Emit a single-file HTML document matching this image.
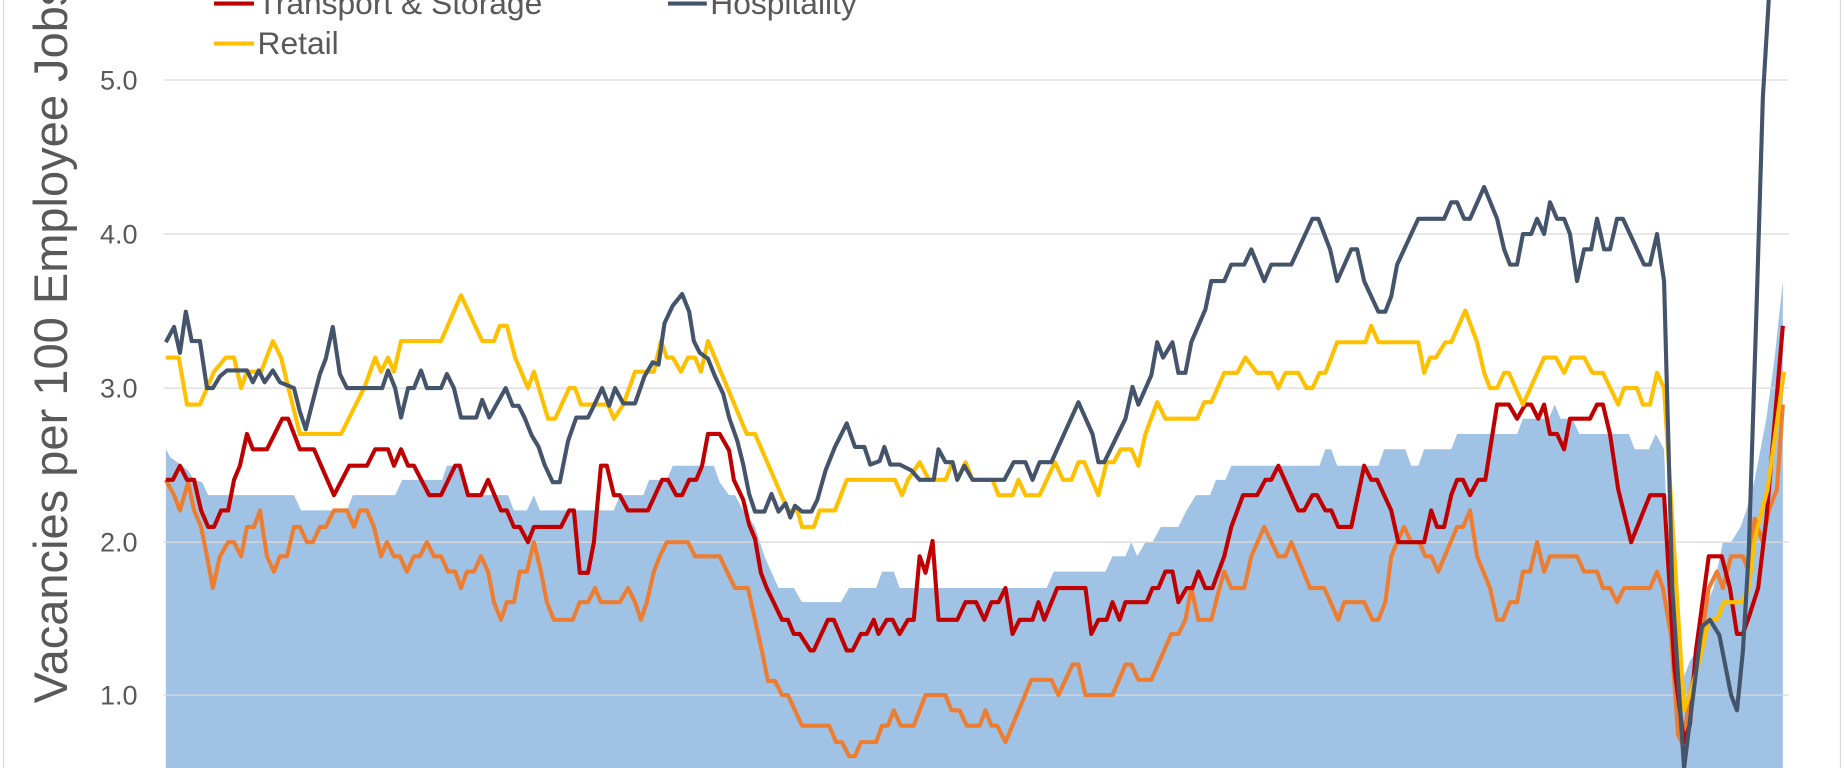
<!DOCTYPE html>
<html><head><meta charset="utf-8"><style>
html,body{margin:0;padding:0;background:#fff;overflow:hidden}
svg{display:block}
text{font-family:"Liberation Sans",sans-serif;fill:#595959}
</style></head><body>
<svg width="1844" height="768" viewBox="0 0 1568 653" preserveAspectRatio="none">
<rect x="0" y="0" width="1568" height="653" fill="#fff"/>
<line x1="3" y1="0" x2="3" y2="653" stroke="#d9d9d9" stroke-width="1"/>
<line x1="1565" y1="0" x2="1565" y2="653" stroke="#d9d9d9" stroke-width="1"/>
<polygon fill="#A0C3E5" points="141,653 141,382 145,389 155,396 160,400 165,408 172,410 177,421 250,421 256,434 295,434 300,421 336,421 342,408 376,408 380,396 390,396 397,421 432,421 437,434 448,434 454,421 459,434 522,434 527,421 547,421 552,408 567,408 572,396 607,396 612,410 620,421 625,421 632,434 642,448 650,473 662,500 675,500 682,512 715,512 722,500 745,500 750,486 760,486 765,500 890,500 896,486 940,486 946,473 957,473 962,461 967,473 974,461 980,461 987,448 1002,448 1009,434 1017,421 1029,421 1034,408 1042,408 1047,396 1122,396 1127,382 1132,382 1137,396 1172,396 1177,382 1195,382 1200,396 1206,396 1211,382 1234,382 1239,369 1290,369 1295,356 1317,356 1322,344 1327,356 1337,356 1343,369 1385,369 1390,382 1402,382 1408,369 1415,382 1421,541 1427,583 1432,575 1437,562 1442,554 1452,512 1457,500 1465,461 1472,461 1480,448 1485,434 1492,408 1502,356 1509,304 1516,239 1516,653"/>
<g stroke="#d9d9d9" stroke-opacity="0.8" stroke-width="1.3">
<line x1="139" y1="68" x2="1521" y2="68"/>
<line x1="139" y1="199" x2="1521" y2="199"/>
<line x1="139" y1="330" x2="1521" y2="330"/>
<line x1="139" y1="461" x2="1521" y2="461"/>
<line x1="139" y1="591" x2="1521" y2="591"/>
</g>
<g font-size="23" text-anchor="end">
<text x="117" y="76">5.0</text>
<text x="117" y="207">4.0</text>
<text x="117" y="338">3.0</text>
<text x="117" y="469">2.0</text>
<text x="117" y="599">1.0</text>
</g>
<text transform="translate(57,598) rotate(-90)" font-size="40">Vacancies per 100 Employee Jobs</text>
<polyline fill="none" stroke="#ED7D31" stroke-width="3.5" stroke-linejoin="round" points="141,408 148,421 153,434 160,410 165,434 171,448 176,473 181,500 187,473 194,461 199,461 205,473 210,448 216,448 221,434 227,473 233,486 238,473 244,473 250,448 255,448 261,461 266,461 272,448 277,448 284,434 295,434 301,448 306,434 312,434 318,448 324,473 329,461 335,473 340,473 346,486 352,473 357,473 363,461 369,473 375,473 381,486 387,486 392,500 397,486 403,486 409,473 415,486 420,512 426,527 431,512 437,512 442,486 448,486 454,461 460,486 465,512 471,527 487,527 493,512 500,512 506,500 511,512 527,512 534,500 540,512 545,527 550,512 556,486 561,473 567,461 585,461 591,473 612,473 625,500 636,500 642,527 648,554 653,579 659,579 665,591 670,591 682,617 705,617 711,631 716,631 722,643 727,643 732,631 745,631 750,617 755,617 760,604 766,617 777,617 782,604 787,591 804,591 809,604 816,604 822,617 833,617 838,604 843,617 848,617 855,631 877,578 894,578 900,591 912,565 917,565 923,591 946,591 957,565 962,565 968,578 979,578 996,539 1002,539 1008,527 1013,500 1019,527 1030,527 1037,500 1041,486 1047,500 1058,500 1064,473 1075,448 1087,473 1093,473 1098,461 1114,500 1126,500 1138,527 1143,512 1160,512 1167,527 1172,527 1178,512 1183,473 1188,461 1194,448 1200,461 1207,461 1212,473 1217,473 1223,486 1239,448 1244,448 1250,434 1256,473 1267,500 1273,527 1278,527 1284,512 1290,512 1295,486 1301,486 1307,461 1313,486 1318,473 1341,473 1347,486 1358,486 1363,500 1369,500 1375,512 1381,500 1403,500 1409,486 1414,500 1421,541 1427,625 1431,633 1437,591 1447,541 1453,500 1460,486 1465,500 1472,473 1482,473 1487,486 1492,441 1499,461 1504,434 1511,416 1516,344"/>
<polyline fill="none" stroke="#C00000" stroke-width="3.5" stroke-linejoin="round" points="141,408 147,408 153,396 159,408 165,408 171,434 177,448 182,448 188,434 194,434 199,408 204,396 210,369 215,382 227,382 240,356 245,356 255,382 267,382 284,421 297,396 312,396 319,382 330,382 335,396 341,382 347,396 352,396 365,421 375,421 387,396 391,396 398,421 409,421 415,408 426,434 431,434 437,448 442,448 449,461 454,448 477,448 484,434 488,434 493,487 500,487 505,461 511,396 516,396 522,421 527,421 534,434 551,434 563,408 568,408 575,421 580,421 586,408 592,408 597,396 602,369 612,369 620,383 624,408 632,425 637,446 642,458 647,487 652,500 665,527 670,527 675,539 680,539 689,553 692,553 704,527 709,527 720,553 725,553 732,539 737,539 743,527 747,539 754,527 759,527 765,539 772,527 777,527 782,473 787,487 793,460 798,527 814,527 821,512 830,512 837,527 843,512 849,512 855,500 861,539 867,527 878,527 883,512 888,527 899,500 923,500 928,539 934,527 941,527 946,512 952,527 957,512 975,512 980,500 985,500 991,486 997,486 1002,512 1009,500 1014,500 1019,486 1025,500 1031,500 1041,473 1047,448 1057,421 1069,421 1076,408 1081,408 1087,396 1104,434 1109,434 1116,421 1120,421 1127,434 1132,434 1138,448 1149,448 1160,396 1166,408 1171,408 1183,434 1189,461 1211,461 1217,434 1222,448 1228,448 1234,421 1239,408 1244,408 1250,421 1257,408 1263,408 1273,344 1283,344 1290,356 1297,344 1302,344 1308,356 1313,344 1318,369 1324,369 1330,382 1335,356 1352,356 1358,344 1363,344 1369,369 1376,416 1387,461 1403,421 1415,421 1424,570 1432,631 1437,616 1442,554 1453,473 1464,473 1471,500 1477,539 1482,539 1487,525 1495,500 1502,441 1516,277"/>
<polyline fill="none" stroke="#FFC000" stroke-width="3.5" stroke-linejoin="round" points="141,304 152,304 159,344 170,344 182,316 192,304 199,304 205,330 210,316 222,316 232,290 239,304 245,329 255,369 290,369 310,329 319,304 324,316 330,304 335,316 341,290 375,290 392,251 410,290 420,290 425,277 431,277 438,304 449,330 454,316 466,356 472,356 484,330 489,330 494,344 517,344 522,356 530,344 540,316 556,316 562,290 567,304 572,304 579,316 585,304 591,304 596,316 602,290 635,369 642,369 670,434 678,434 682,448 692,448 697,434 710,434 720,408 761,408 767,421 772,408 782,393 790,408 804,408 810,393 814,408 821,393 827,408 844,408 849,421 861,421 866,408 872,421 884,421 897,393 904,408 911,408 917,393 922,393 934,421 941,393 947,393 953,382 962,382 968,396 974,369 984,342 991,356 1018,356 1024,342 1030,342 1041,317 1052,317 1059,304 1069,317 1081,317 1087,330 1093,317 1104,317 1111,330 1116,330 1122,317 1127,317 1137,291 1161,291 1166,277 1172,291 1206,291 1211,317 1216,304 1221,304 1229,291 1234,291 1246,264 1256,291 1262,317 1267,330 1273,330 1279,317 1283,317 1295,344 1313,304 1323,304 1330,317 1336,304 1347,304 1354,317 1363,317 1376,344 1381,330 1392,330 1397,344 1403,344 1409,317 1415,330 1432,604 1437,591 1447,554 1453,527 1460,527 1466,512 1481,512 1487,500 1492,458 1503,416 1517,316"/>
<polyline fill="none" stroke="#44546A" stroke-width="3.5" stroke-linejoin="round" points="141,291 148,278 153,300 158,265 163,290 170,290 176,330 181,330 187,320 193,315 210,315 215,325 220,315 225,325 232,315 238,325 250,330 255,350 260,365 265,345 272,318 277,305 283,278 289,318 295,330 325,330 330,315 336,330 341,355 347,330 352,330 358,315 363,330 375,330 380,318 386,330 392,355 405,355 410,340 416,355 430,330 436,345 441,345 446,355 452,370 458,380 463,395 470,410 476,410 483,375 490,355 500,355 505,345 512,330 518,345 523,330 530,343 540,343 548,320 555,308 560,310 565,275 572,260 580,250 586,265 590,290 595,300 602,305 608,320 615,335 620,355 627,375 632,395 637,420 642,435 650,435 656,420 662,435 668,428 672,440 676,430 682,435 690,435 695,425 702,400 710,380 720,360 727,380 735,380 740,395 748,392 752,380 757,395 765,395 775,400 782,408 794,408 798,382 804,393 810,393 814,408 820,396 827,408 854,408 862,393 872,393 878,408 884,393 894,393 917,342 929,369 934,393 939,393 957,356 963,329 968,344 979,319 984,291 989,304 997,291 1002,317 1008,317 1013,291 1025,263 1030,239 1041,239 1047,225 1058,225 1064,212 1075,239 1081,225 1098,225 1116,186 1121,186 1131,212 1137,239 1149,212 1154,212 1160,239 1172,265 1178,265 1183,252 1188,225 1206,186 1228,186 1234,172 1239,172 1245,186 1250,186 1262,159 1273,186 1279,212 1284,225 1290,225 1295,199 1302,199 1307,186 1313,199 1318,172 1324,186 1330,186 1335,199 1341,239 1347,212 1353,212 1358,186 1364,212 1369,212 1375,186 1380,186 1398,225 1403,225 1409,199 1415,239 1422,500 1432,653 1447,533 1454,527 1462,540 1472,591 1477,604 1482,554 1487,470 1494,250 1499,83 1504,0"/>
<line x1="182" y1="3" x2="216" y2="3" stroke="#C00000" stroke-width="3.5"/>
<text x="219" y="12" font-size="27">Transport &amp; Storage</text>
<line x1="568" y1="3" x2="601" y2="3" stroke="#44546A" stroke-width="3.5"/>
<text x="604" y="12" font-size="27">Hospitality</text>
<line x1="182" y1="37" x2="216" y2="37" stroke="#FFC000" stroke-width="3.5"/>
<text x="219" y="46" font-size="27">Retail</text>
</svg>
</body></html>
